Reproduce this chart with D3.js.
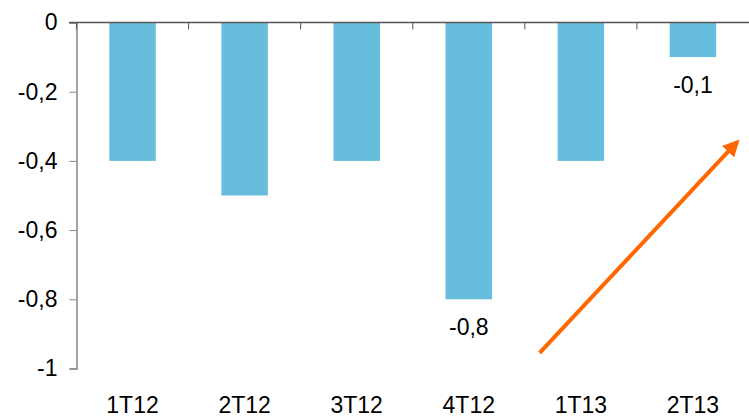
<!DOCTYPE html>
<html>
<head>
<meta charset="utf-8">
<script src="https://cdn.jsdelivr.net/npm/d3@7"></script>
<style>
  body { margin: 0; background: #fff; }
  text { font-family: "Liberation Sans", Arial, sans-serif; }
</style>
</head>
<body>
<svg width="749" height="417"></svg>
<script>
const categories = ["1T12", "2T12", "3T12", "4T12", "1T13", "2T13"];
const values = [-0.4, -0.5, -0.4, -0.8, -0.4, -0.1];
const labelled = ["4T12", "2T13"];
const yTicks = [0, -0.2, -0.4, -0.6, -0.8, -1];
const arrowFrom = ["1T13", -0.955];
const arrowTo = ["2T13", -0.345];

const fmt = (d) => String(d).replace(".", ",").replace("\u2212", "-");

const svg = d3.select("svg");
const x = d3.scaleBand().domain(categories).range([76.5, 749]).paddingInner(0.585).paddingOuter(0.2925);
const y = d3.scaleLinear().domain([-1, 0]).range([368.5, 22.5]);
const band = d3.scaleBand().domain(categories).range([76.5, 749]);

// bars
svg.append("g").selectAll("rect")
    .data(values)
    .enter()
    .append("rect")
    .attr("x", (d, i) => x(categories[i]))
    .attr("y", y(0))
    .attr("width", x.bandwidth())
    .attr("height", (d) => y(d) - y(0))
    .attr("fill", "#66bedc");

// y axis
const yAxis = svg.append("g").attr("transform", "translate(76.5,0)")
    .call(d3.axisLeft(y).tickValues(yTicks).tickSize(7).tickPadding(12).tickFormat(fmt));
yAxis.select(".domain").attr("stroke", "#868686").attr("stroke-width", 1.5);
yAxis.selectAll(".tick line").attr("stroke", "#868686");
yAxis.selectAll("text").attr("font-size", 23).attr("fill", "#000");

// x axis at zero with ticks at band edges
const zero = svg.append("g");
zero.append("line").attr("x1", 69).attr("x2", 749).attr("y1", y(0)).attr("y2", y(0))
    .attr("stroke", "#555").attr("stroke-width", 1.5);
zero.selectAll(".edge")
    .data(categories)
    .enter()
    .append("line")
    .attr("x1", (d) => band(d))
    .attr("x2", (d) => band(d))
    .attr("y1", y(0))
    .attr("y2", y(0) + 7)
    .attr("stroke", "#555");

// category labels
svg.append("g").selectAll("text")
    .data(categories)
    .enter()
    .append("text")
    .attr("x", (d) => x(d) + x.bandwidth() / 2)
    .attr("y", 413)
    .attr("text-anchor", "middle")
    .attr("font-size", 23)
    .text((d) => d);

// value labels
svg.append("g").selectAll("text")
    .data(categories.filter((c) => labelled.includes(c)))
    .enter()
    .append("text")
    .attr("x", (d) => x(d) + x.bandwidth() / 2)
    .attr("y", (d) => y(values[categories.indexOf(d)]) + 36)
    .attr("text-anchor", "middle")
    .attr("font-size", 23)
    .text((d) => fmt(values[categories.indexOf(d)]));

// arrow
svg.append("defs").append("marker")
    .attr("id", "head")
    .attr("viewBox", "0 0 10 10")
    .attr("refX", 8).attr("refY", 5)
    .attr("markerWidth", 4.2).attr("markerHeight", 4.2)
    .attr("orient", "auto")
    .append("path").attr("d", "M0,0 L10,5 L0,10 z").attr("fill", "#ff6600");

const ax1 = x(arrowFrom[0]) - 18, ay1 = y(arrowFrom[1]);
const ax2 = x(arrowTo[0]) + x.bandwidth() + 21, ay2 = y(arrowTo[1]);
svg.append("line")
    .attr("x1", ax1).attr("y1", ay1)
    .attr("x2", ax2).attr("y2", ay2)
    .attr("stroke", "#ff6600").attr("stroke-width", 4)
    .attr("marker-end", "url(#head)");
</script>
</body>
</html>
